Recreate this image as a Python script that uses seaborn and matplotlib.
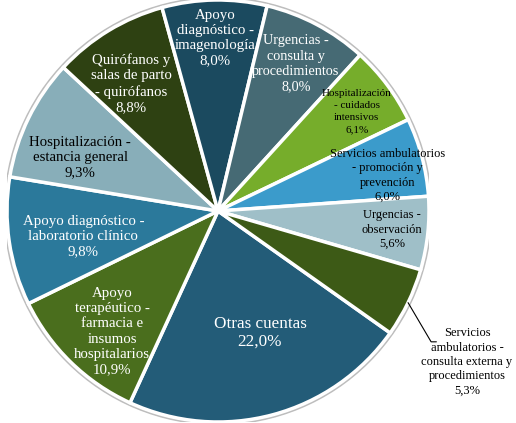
import numpy as np
import matplotlib
matplotlib.use("Agg")
import matplotlib.pyplot as plt
import seaborn as sns

# Cost shares, clockwise from "Otras cuentas"
labels = [
    "Otras cuentas\n22,0%",
    "Apoyo\nterapéutico -\nfarmacia e\ninsumos\nhospitalarios\n10,9%",
    "Apoyo diagnóstico -\nlaboratorio clínico\n9,8%",
    "Hospitalización -\nestancia general\n9,3%",
    "Quirófanos y\nsalas de parto\n- quirófanos\n8,8%",
    "Apoyo\ndiagnóstico -\nimagenología\n8,0%",
    "Urgencias -\nconsulta y\nprocedimientos\n8,0%",
    "Hospitalización\n- cuidados\nintensivos\n6,1%",
    "Servicios ambulatorios\n- promoción y\nprevención\n6,0%",
    "Urgencias -\nobservación\n5,6%",
    "Servicios\nambulatorios -\nconsulta externa y\nprocedimientos\n5,3%",
]
values = [22.0, 10.9, 9.8, 9.3, 8.8, 8.0, 8.0, 6.1, 6.0, 5.6, 5.3]

colors = ["#235c78", "#4a6e1d", "#2b799b", "#88aeb9", "#2e4112", "#1b4a5f",
          "#466a74", "#76ad2b", "#3b9bcb", "#9fbfc8", "#3d5a16"]
text_colors = ["white", "white", "white", "black", "white", "white",
               "white", "black", "black", "black", "black"]
font_sizes = [12.3, 10.7, 10.7, 10.7, 10.7, 10.7, 10.3, 8, 9, 9, 9]
line_sp = [1.15, 1.22, 1.22, 1.22, 1.22, 1.22, 1.22, 1.45, 1.26, 1.26, 1.26]
label_r = [0.61, 0.76, 0.65, 0.70, 0.73, 0.82, 0.79, 0.81, 0.82, 0.83, None]
label_da = [4, 3, 2.5, 5, 3, 0, 0, -1, -3, 0, 0]

sns.set_style("white")
plt.rcParams['font.family'] = ['Liberation Serif', 'DejaVu Serif']

fig = plt.figure(figsize=(5.16, 4.23), dpi=100)
cx, cy, rad = 218, 211, 211
ax = fig.add_axes([(cx - rad) / 516, (423 - cy - rad) / 423, 2 * rad / 516, 2 * rad / 423])

# soft grey rim behind the pie
ax.add_patch(plt.Circle((0, 0), 1.012, color="#bdbdbd", zorder=0))
wedges, _ = ax.pie(values, colors=colors, startangle=324.7, counterclock=False,
                   radius=1, wedgeprops=dict(edgecolor="white", linewidth=2.5))
ax.set_xlim(-1, 1)
ax.set_ylim(-1, 1)
ax.set_aspect("equal")
ax.axis("off")

for w, lab, tc, fs, ls, r, da in zip(wedges, labels, text_colors, font_sizes,
                                      line_sp, label_r, label_da):
    ang = np.deg2rad((w.theta1 + w.theta2) / 2 + da)
    if r is None:
        # outside label with leader line
        x0, y0 = np.cos(ang), np.sin(ang)
        ax.plot([x0, 1.01, 1.035], [y0, -0.62, -0.62], color="black", lw=0.8,
                clip_on=False)
        ax.text(1.18, -0.715, lab, ha="center", va="center", fontsize=fs, color=tc,
                linespacing=ls)
    else:
        ax.text(r * np.cos(ang), r * np.sin(ang), lab, ha="center", va="center",
                fontsize=fs, color=tc, linespacing=ls)

fig.savefig("out.png", dpi=100)
